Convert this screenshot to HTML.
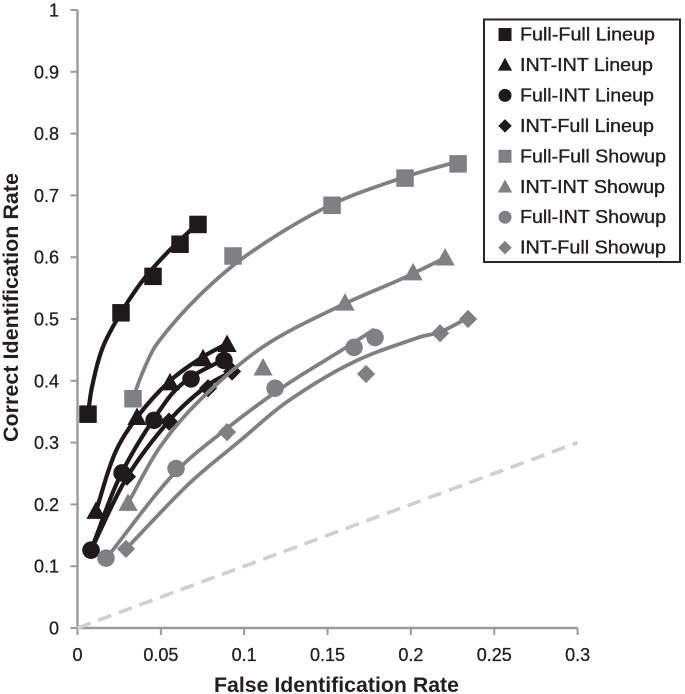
<!DOCTYPE html>
<html lang="en">
<head>
<meta charset="utf-8">
<title>ROC chart: Correct vs False Identification Rate</title>
<style>
html,body{margin:0;padding:0;background:#fff;width:685px;height:694px;overflow:hidden}
svg{display:block;font-family:"Liberation Sans",sans-serif}
</style>
</head>
<body>
<svg id="chart" xmlns="http://www.w3.org/2000/svg" width="685" height="694" viewBox="0 0 685 694"></svg>
<script>
const xTicks = [0, 0.05, 0.1, 0.15, 0.2, 0.25, 0.3];
const xTickLabels = ['0', '0.05', '0.1', '0.15', '0.2', '0.25', '0.3'];
const yTicks = [0, 0.1, 0.2, 0.3, 0.4, 0.5, 0.6, 0.7, 0.8, 0.9, 1];
const yTickLabels = ['0', '0.1', '0.2', '0.3', '0.4', '0.5', '0.6', '0.7', '0.8', '0.9', '1'];
const chanceLine = [[0, 0], [0.3, 0.3]];

const ffLineupPoints = [[.0063,.346],[.0261,.510],[.0453,.569],[.0615,.621],[.0723,.653]];
const iiLineupPoints = [[.0111,.189],[.0357,.341],[.0555,.397],[.0753,.436],[.0897,.459]];
const fiLineupPoints = [[.0081,.126],[.0267,.251],[.0459,.336],[.0681,.403],[.0879,.433]];
const ifLineupPoints = [[.0081,.126],[.0297,.245],[.0549,.334],[.0783,.388],[.0927,.415]];
const ffShowupPoints = [[.0333,.371],[.0933,.602],[.1527,.684],[.1965,.728],[.2283,.751]];
const iiShowupPoints = [[.0303,.202],[.1113,.421],[.1605,.526],[.2013,.575],[.2205,.599]];
const fiShowupPoints = [[.0171,.113],[.0591,.258],[.1185,.388],[.1659,.454],[.1785,.470]];
const ifShowupPoints = [[.0291,.128],[.0897,.317],[.1731,.411],[.2175,.477],[.2343,.500]];

const ffLineupFit = [[.0063,.346],[.0087,.390],[.0153,.455],[.0261,.510],[.0393,.563],[.0537,.607],[.0723,.655]];
const iiLineupFit = [[.0111,.189],[.0225,.283],[.0357,.341],[.0555,.400],[.0753,.439],[.0897,.460]];
const fiLineupFit = [[.0081,.126],[.0267,.252],[.0537,.369],[.0675,.405],[.0873,.434]];
const ifLineupFit = [[.0081,.126],[.0297,.244],[.0555,.337],[.0777,.392],[.0933,.416]];
const ffShowupFit = [[.0333,.372],[.0393,.415],[.0477,.460],[.0735,.539],[.1035,.607],[.1515,.684],[.1965,.730],[.2283,.755]];
const iiShowupFit = [[.0303,.202],[.0495,.293],[.0735,.369],[.1113,.455],[.1557,.519],[.1953,.566],[.2205,.599]];
const fiShowupFit = [[.0171,.112],[.0573,.248],[.0873,.318],[.1233,.390],[.1617,.455],[.1773,.482]];
const ifShowupFit = [[.0291,.128],[.0675,.235],[.0975,.303],[.1257,.366],[.1653,.430],[.2055,.471],[.2175,.479],[.2343,.502]];

const seriesNames = ['Full-Full Lineup','INT-INT Lineup','Full-INT Lineup','INT-Full Lineup','Full-Full Showup','INT-INT Showup','Full-INT Showup','INT-Full Showup'];
const seriesPoints = [ffLineupPoints, iiLineupPoints, fiLineupPoints, ifLineupPoints, ffShowupPoints, iiShowupPoints, fiShowupPoints, ifShowupPoints];
const seriesFits = [ffLineupFit, iiLineupFit, fiLineupFit, ifLineupFit, ffShowupFit, iiShowupFit, fiShowupFit, ifShowupFit];
const seriesShapes = ['square','triangle','circle','diamond','square','triangle','circle','diamond'];

const NS = 'http://www.w3.org/2000/svg';
const svg = document.getElementById('chart');
const DARK = '#1e1a1b', GREY = '#808083', AXIS = '#9a9a9a', TEXT = '#231f20';
const sx = v => 77.5 + v * 1667;
const sy = v => 628 - v * 618;

function make(tag, attrs, parent) {
  const el = document.createElementNS(NS, tag);
  for (const k in attrs) el.setAttribute(k, attrs[k]);
  (parent || svg).appendChild(el);
  return el;
}
function splinePath(pts) {
  const p = pts.map(d => [sx(d[0]), sy(d[1])]);
  const tangent = i => {
    const a = p[Math.max(i - 1, 0)], b = p[Math.min(i + 1, p.length - 1)];
    const dx = b[0] - a[0], dy = b[1] - a[1], n = Math.hypot(dx, dy) || 1;
    return [dx / n, dy / n];
  };
  let d = 'M' + p[0][0].toFixed(1) + ' ' + p[0][1].toFixed(1);
  for (let i = 0; i < p.length - 1; i++) {
    const b = p[i], c = p[i + 1], t0 = tangent(i), t1 = tangent(i + 1);
    const len = Math.hypot(c[0] - b[0], c[1] - b[1]) / 3;
    d += 'C' + (b[0] + t0[0] * len).toFixed(1) + ' ' + (b[1] + t0[1] * len).toFixed(1) + ' '
       + (c[0] - t1[0] * len).toFixed(1) + ' ' + (c[1] - t1[1] * len).toFixed(1) + ' '
       + c[0].toFixed(1) + ' ' + c[1].toFixed(1);
  }
  return d;
}
function drawMarker(shape, cx, cy, s, fill, parent) {
  if (shape === 'square') return make('rect', {x: cx - s / 2, y: cy - s / 2, width: s, height: s, fill}, parent);
  if (shape === 'circle') return make('circle', {cx, cy, r: s / 2, fill}, parent);
  if (shape === 'triangle') return make('polygon', {points: `${cx},${cy - s * 0.56} ${cx + s * 0.55},${cy + s * 0.44} ${cx - s * 0.55},${cy + s * 0.44}`, fill}, parent);
  const r = s * 0.52;
  return make('polygon', {points: `${cx},${cy - r} ${cx + r},${cy} ${cx},${cy + r} ${cx - r},${cy}`, fill}, parent);
}

// Axes
const axes = make('g', {stroke: AXIS, 'stroke-width': 2.4, fill: 'none'});


const yAxisLine = make('line', {x1: sx(0), y1: sy(1), x2: sx(0), y2: sy(0)}, axes);


const xAxisLine = make('line', {x1: sx(0), y1: sy(0), x2: sx(0.3), y2: sy(0)}, axes);



yTicks.forEach((t, i) => {
  const tick = make('line', {x1: sx(0) - 7, y1: sy(t), x2: sx(0), y2: sy(t), stroke: AXIS, 'stroke-width': 2});
  
  
  const label = make('text', {x: 59, y: sy(t) + 6.5, 'text-anchor': 'end', 'font-size': 18, fill: TEXT, stroke: TEXT, 'stroke-width': 0.3});
  
  
  label.textContent = yTickLabels[i];
});
xTicks.forEach((t, i) => {
  const tick = make('line', {x1: sx(t), y1: sy(0), x2: sx(t), y2: sy(0) + 7, stroke: AXIS, 'stroke-width': 2});
  
  
  const label = make('text', {x: sx(t), y: 661, 'text-anchor': 'middle', 'font-size': 18, fill: TEXT, stroke: TEXT, 'stroke-width': 0.3});
  
  
  label.textContent = xTickLabels[i];
});

// Axis titles
const xTitle = make('text', {x: 214, y: 692, 'font-size': 21, 'font-weight': 'bold', fill: TEXT, textLength: 245, lengthAdjust: 'spacingAndGlyphs'});


xTitle.textContent = 'False Identification Rate';
const yTitle = make('text', {transform: 'translate(18 442) rotate(-90)', 'font-size': 21, 'font-weight': 'bold', fill: TEXT, textLength: 269, lengthAdjust: 'spacingAndGlyphs'});


yTitle.textContent = 'Correct Identification Rate';

// Chance line
const chance = make('line', {x1: sx(chanceLine[0][0]), y1: sy(chanceLine[0][1]), x2: sx(chanceLine[1][0]), y2: sy(chanceLine[1][1]), stroke: '#cfcfcf', 'stroke-width': 3.6, 'stroke-dasharray': '14 8'});



// Series
seriesNames.forEach((name, i) => {
  const color = i < 4 ? DARK : GREY;
  const g = make('g', {});
  
  
  const curve = make('path', {d: splinePath(seriesFits[i]), fill: 'none', stroke: color, 'stroke-width': i < 4 ? 4.2 : 3.8, 'stroke-linecap': 'round'}, g);
  
  
  seriesPoints[i].forEach(pt => {
    const mark = drawMarker(seriesShapes[i], sx(pt[0]), sy(pt[1]), 17.5, color, g);
    
    
  });
});

// Legend
const legend = make('g', {});


const legendBox = make('rect', {x: 484, y: 19.5, width: 196, height: 242.5, fill: '#fff', stroke: '#2a2627', 'stroke-width': 2}, legend);


const legendWidths = [135, 133, 134, 134, 146, 145, 146, 146];
seriesNames.forEach((name, i) => {
  const cy = 34.5 + i * 30.45;
  const entry = make('g', {}, legend);
  
  
  const swatch = drawMarker(seriesShapes[i], 505, cy, 13, i < 4 ? DARK : GREY, entry);
  
  
  const label = make('text', {x: 520, y: cy + 6, 'font-size': 18, fill: TEXT, stroke: TEXT, 'stroke-width': 0.35, textLength: legendWidths[i], lengthAdjust: 'spacingAndGlyphs'}, entry);
  
  
  label.textContent = name;
});
</script>
</body>
</html>
